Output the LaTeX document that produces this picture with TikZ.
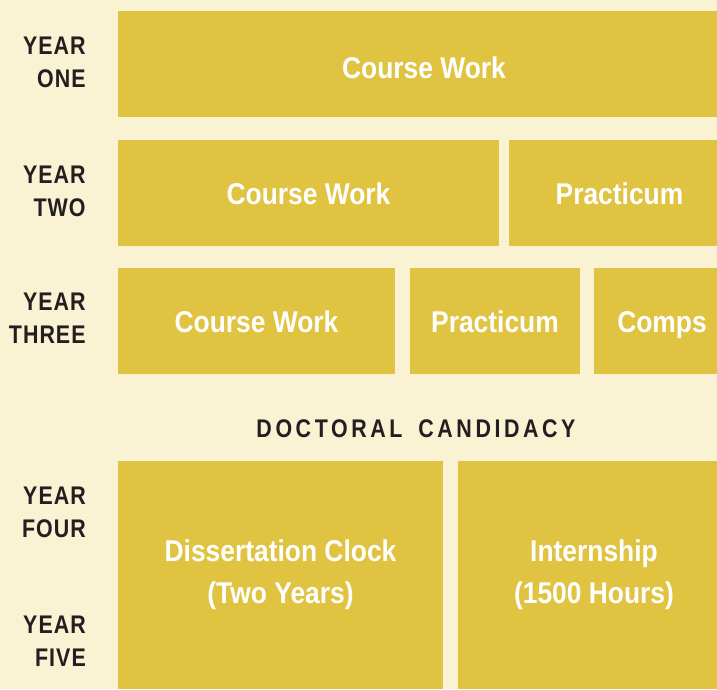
\documentclass[tikz,border=0pt]{standalone}
\usepackage{fontspec}
\usepackage{tikz}
\usetikzlibrary{positioning}
\newfontfamily\boxfont{Liberation Sans}[FakeStretch=0.88]
\newfontfamily\yearfont{Liberation Sans}[FakeStretch=0.84, LetterSpace=4]
\newfontfamily\candfont{Liberation Sans}[FakeStretch=0.84, LetterSpace=14]
\definecolor{cream}{HTML}{F9F2D3}
\definecolor{mustard}{HTML}{E0C341}
\definecolor{ink}{HTML}{231F20}
\tikzstyle{block} = [rectangle, fill = mustard, text = white, inner sep = 0pt, align = center, font = \boxfont\bfseries\fontsize{30}{42}\selectfont]
\tikzstyle{oneline} = [block, text height = 23pt, text depth = 0pt]
\tikzstyle{year} = [rectangle, text = ink, inner sep = 0pt, align = right, anchor = east, font = \yearfont\bfseries\fontsize{25.5}{33}\selectfont]

\begin{document}
\begin{tikzpicture}[x = 1pt, y = -1pt]
                \fill [cream] (0,0) rectangle (717,689);
                \useasboundingbox (0,0) rectangle (717,689);
                \clip (0,0) rectangle (717,689);
                
                \node (cw1) [oneline, text height = 28pt, minimum width = 612pt, minimum height = 106pt] at (424,64) {Course Work};
                \node (cw2) [oneline, minimum width = 381pt, minimum height = 106pt] at (308.5,193) {Course Work};
                \node (prac2) [oneline, minimum width = 221pt, minimum height = 106pt] at (619.5,193) {Practicum};
                \node (cw3) [oneline, minimum width = 277pt, minimum height = 106pt] at (256.5,321) {Course Work};
                \node (prac3) [oneline, minimum width = 170pt, minimum height = 106pt] at (495,321) {Practicum};
                \node (comps) [oneline, minimum width = 136pt, minimum height = 106pt] at (662,321) {Comps};
                \node (diss) [block, minimum width = 325pt, minimum height = 228pt] at (280.5,575) {Dissertation Clock\\(Two Years)};
                \node (intern) [block, minimum width = 272pt, minimum height = 228pt] at (594,575) {Internship\\(1500 Hours)};
                
                \node (cand) [text = ink, font = \candfont\bfseries\fontsize{25.5}{28}\selectfont] at (416,429) {DOCTORAL\hspace{16pt}CANDIDACY};
                
                \node (yr1) [year, left = 32pt of cw1, yshift = 1.5pt] {YEAR\\ONE};
                \node (yr2) [year, left = 32pt of cw2, yshift = 1.5pt] {YEAR\\TWO};
                \node (yr3) [year, left = 32pt of cw3, yshift = 2.5pt] {YEAR\\THREE};
                \node (yr4) [year] at (86,512.5) {YEAR\\FOUR};
                \node (yr5) [year] at (86,641.5) {YEAR\\FIVE};
            \end{tikzpicture}
\end{document}
